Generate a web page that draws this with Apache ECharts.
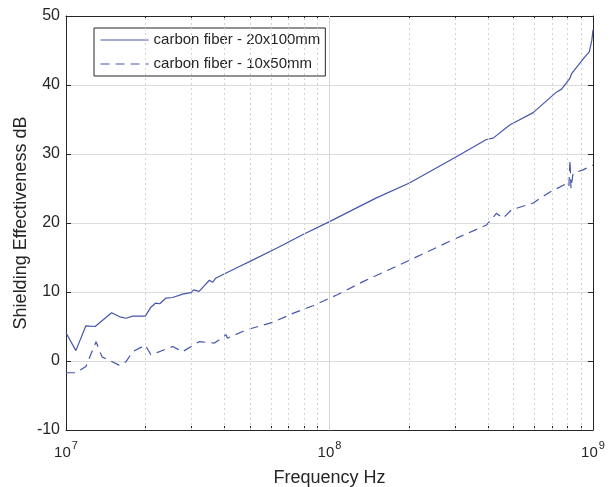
<!DOCTYPE html>
<html>
<head>
<meta charset="utf-8">
<script src="https://cdn.jsdelivr.net/npm/echarts@6/dist/echarts.min.js"></script>
<style>
  html, body { margin: 0; padding: 0; background: #fff; }
  #chart { width: 612px; height: 487px; }
</style>
</head>
<body>
<div id="chart"></div>
<script>
// Shielding effectiveness of two carbon fiber samples vs. frequency
const seriesNames = ['carbon fiber - 20x100mm', 'carbon fiber - 10x50mm'];

const freqLarge = [1.00e7, 1.09e7, 1.19e7, 1.29e7, 1.49e7, 1.60e7, 1.69e7, 1.79e7, 2.00e7, 2.10e7,
  2.19e7, 2.27e7, 2.39e7, 2.54e7, 2.77e7, 2.98e7, 3.05e7, 3.20e7, 3.50e7, 3.60e7, 3.70e7, 3.93e7,
  4.55e7, 4.97e7, 6.27e7, 7.90e7, 1.00e8, 1.50e8, 2.01e8, 3.03e8, 3.94e8, 4.18e8, 4.83e8, 5.93e8,
  7.28e8, 7.60e8, 7.70e8, 8.18e8, 8.28e8, 8.35e8, 9.33e8, 9.68e8, 9.90e8, 1.00e9];
const seLarge = [4.1, 1.5, 5.1, 5.0, 7.0, 6.4, 6.2, 6.5, 6.5, 7.8,
  8.4, 8.3, 9.1, 9.2, 9.7, 9.9, 10.3, 10.1, 11.7, 11.4, 12.0, 12.5,
  13.7, 14.4, 16.3, 18.3, 20.2, 23.6, 25.8, 29.6, 32.1, 32.3, 34.2, 36.0,
  39.0, 39.4, 39.6, 41.0, 41.6, 41.6, 44.1, 44.8, 46.5, 48.0];

const freqSmall = [1.00e7, 1.09e7, 1.19e7, 1.30e7, 1.37e7, 1.59e7, 1.69e7, 1.79e7, 2.00e7, 2.10e7,
  2.26e7, 2.54e7, 2.77e7, 3.20e7, 3.66e7, 4.05e7, 4.10e7, 4.82e7, 6.08e7, 7.26e7, 8.65e7, 1.07e8,
  1.34e8, 2.01e8, 3.03e8, 3.94e8, 4.30e8, 4.56e8, 4.90e8, 5.93e8, 6.87e8, 7.94e8, 8.10e8, 8.18e8,
  8.25e8, 8.40e8, 9.16e8, 1.00e9];
const seSmall = [-1.7, -1.7, -0.8, 2.8, 0.6, -0.6, -0.1, 1.35, 2.3, 0.9,
  1.35, 2.1, 1.35, 2.8, 2.6, 3.8, 3.3, 4.5, 5.6, 6.9, 8.0, 9.6,
  11.5, 14.6, 17.8, 19.7, 21.4, 20.7, 21.9, 22.9, 24.5, 25.7, 25.3, 29.1,
  25.0, 27.2, 27.7, 28.4];

// decade and in-between positions on the log frequency axis
const decadeFreqs = [1e7, 1e8, 1e9];
const minorFreqs = [2e7, 3e7, 4e7, 5e7, 6e7, 7e7, 8e7, 9e7, 2e8, 3e8, 4e8, 5e8, 6e8, 7e8, 8e8, 9e8];
const tickFreqs = decadeFreqs.concat(minorFreqs).sort((a, b) => a - b);

const lineColor = '#4556ad';
const textColor = '#262626';
const fontFamily = '"Liberation Sans", Arial, sans-serif';

const pairs = (xs, ys) => xs.map((x, i) => [x, ys[i]]);

const xBase = {
  type: 'log', logBase: 10, min: 1e7, max: 1e9,
  axisLine: { show: true, onZero: false, lineStyle: { color: textColor, width: 1 } },
  axisTick: { show: true, inside: true, length: 4, customValues: tickFreqs, lineStyle: { color: textColor } },
  minorTick: { show: false },
  splitLine: { show: false }
};
const yBase = {
  type: 'value', min: -10, max: 50, interval: 10,
  axisLine: { show: true, onZero: false, lineStyle: { color: textColor, width: 1 } },
  axisTick: { show: true, inside: true, length: 5, lineStyle: { color: textColor } },
};

const chart = echarts.init(document.getElementById('chart'), null, { renderer: 'canvas' });
chart.setOption({
  backgroundColor: '#ffffff',
  animation: false,
  textStyle: { fontFamily: fontFamily },
  grid: { left: 66, right: 19, top: 16, bottom: 57, containLabel: false, outerBoundsMode: 'none' },
  legend: {
    show: true,
    orient: 'vertical',
    left: 94, top: 28,
    data: seriesNames,
    itemWidth: 48, itemHeight: 14, itemGap: 8,
    padding: [4, 5, 4, 6],
    backgroundColor: '#ffffff',
    borderColor: textColor, borderWidth: 1, borderRadius: 0,
    itemStyle: { opacity: 0 },
    lineStyle: { width: 1.2 },
    textStyle: { color: textColor, fontSize: 15, lineHeight: 16, fontFamily: fontFamily }
  },
  xAxis: [
    Object.assign({}, xBase, {
      position: 'bottom',
      name: 'Frequency Hz', nameLocation: 'middle', nameGap: 39, nameMoveOverlap: false,
      nameTextStyle: { color: textColor, fontSize: 18, fontFamily: fontFamily },
      axisLabel: {
        color: textColor, margin: 10,
        formatter: v => '{b|10}{s|' + Math.round(Math.log10(v)) + '}',
        rich: {
          b: { fontSize: 15, color: textColor, fontFamily: fontFamily, lineHeight: 20, verticalAlign: 'bottom' },
          s: { fontSize: 11, color: textColor, fontFamily: fontFamily, lineHeight: 12, verticalAlign: 'top', padding: [0, 0, 0, 1] }
        }
      }
    }),
    Object.assign({}, xBase, {
      position: 'top',
      axisLabel: { show: false }
    })
  ],
  yAxis: [
    Object.assign({}, yBase, {
      position: 'left',
      name: 'Shielding Effectiveness dB', nameLocation: 'middle', nameGap: 36, nameMoveOverlap: false,
      nameTextStyle: { color: textColor, fontSize: 18, fontFamily: fontFamily },
      axisLabel: { color: textColor, fontSize: 16, margin: 6, fontFamily: fontFamily },
      splitLine: { show: true, lineStyle: { color: '#dcdcdc', width: 1 } }
    }),
    Object.assign({}, yBase, {
      position: 'right',
      axisLabel: { show: false },
      splitLine: { show: false }
    })
  ],
  series: [
    {
      name: seriesNames[0], type: 'line', xAxisIndex: 0, yAxisIndex: 0,
      data: pairs(freqLarge, seLarge), showSymbol: false, symbol: 'none',
      lineStyle: { color: lineColor, width: 1.2, type: 'solid' },
      itemStyle: { color: lineColor }, z: 3,
      markLine: {
        silent: true, symbol: 'none', animation: false,
        label: { show: false },
        lineStyle: { color: '#d2d2d2', width: 1, type: [2, 3] },
        data: minorFreqs.map(f => ({ xAxis: f })).concat([
          { xAxis: decadeFreqs[1], lineStyle: { color: '#d4d4d4', width: 1, type: 'solid' } }
        ])
      }
    },
    {
      name: seriesNames[1], type: 'line', xAxisIndex: 0, yAxisIndex: 0,
      data: pairs(freqSmall, seSmall), showSymbol: false, symbol: 'none',
      lineStyle: { color: lineColor, width: 1.2, type: [9, 6] },
      itemStyle: { color: lineColor }, z: 3
    }
  ]
});
</script>
</body>
</html>
